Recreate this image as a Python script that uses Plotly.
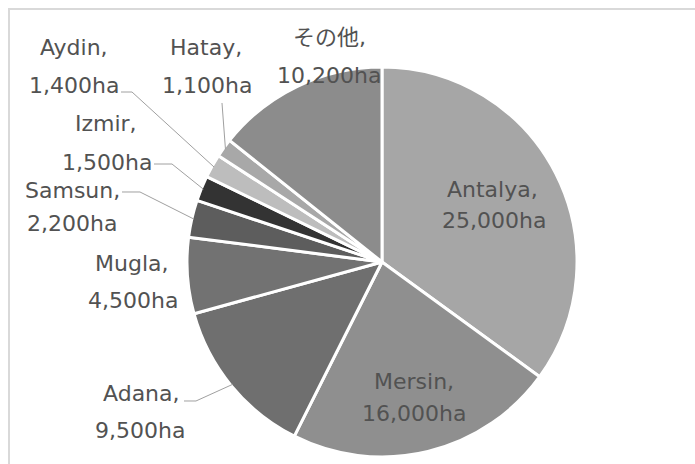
import math
import plotly.graph_objects as go

# Cultivated area by province (ha)
provinces = ["Antalya", "Mersin", "Adana", "Mugla", "Samsun", "Izmir", "Aydin", "Hatay", "その他"]
areas = [25000, 16000, 9500, 4500, 2200, 1500, 1400, 1100, 10200]
slice_colors = ["#a6a6a6", "#8f8f8f", "#6f6f6f", "#727272", "#5d5d5d",
                "#333333", "#bdbdbd", "#a8a8a8", "#8c8c8c"]

W, H = 695, 464
CX, CY, R = 382, 262, 195  # pie centre / radius in pixels
FONT = "DejaVu Sans, Noto Sans CJK JP, sans-serif"
FONT_SIZE = 22
TEXT_COLOR = "#525252"
LINE_COLOR = "#a0a0a0"

# label placement: (name-line centre x, y, value-line centre x, y) in pixels
label_pos = {
    "Antalya": (492, 189, 494, 221),
    "Mersin": (414, 381, 414, 413),
    "Adana": (141, 393, 140, 430),
    "Mugla": (131, 263, 133, 300),
    "Samsun": (72, 190, 72, 223),
    "Izmir": (106, 124, 107, 163),
    "Aydin": (74, 48, 74, 85),
    "Hatay": (206, 48, 207, 85),
    "その他": (329, 38, 329, 76),
}
# leader line start (near label) and elbow, pixels
leaders = {
    "Adana": [(184, 401), (196, 401)],
    "Samsun": [(122, 192), (140, 192)],
    "Izmir": [(154, 164), (172, 164)],
    "Aydin": [(121, 92), (132, 92)],
    "Hatay": [(222, 103), (222, 103)],
}


def px(x):
    return x / W


def py(y):
    return 1 - y / H


fig = go.Figure(go.Pie(
    labels=provinces,
    values=areas,
    sort=False,
    direction="clockwise",
    rotation=0,
    marker=dict(colors=slice_colors, line=dict(color="white", width=3)),
    textinfo="none",
    hoverinfo="label+value",
    domain=dict(x=[px(CX - R), px(CX + R)], y=[py(CY + R), py(CY - R)]),
    showlegend=False,
))

annotations = []
shapes = []
total = sum(areas)
cum = 0
for name, val in zip(provinces, areas):
    mid = (cum + val / 2) / total * 2 * math.pi
    cum += val
    nx, ny, vx, vy = label_pos[name]
    for text, x, y in ((f"{name},", nx, ny), (f"{val:,}ha", vx, vy)):
        annotations.append(dict(x=px(x), y=py(y), xref="paper", yref="paper",
                                xanchor="center", yanchor="middle",
                                text=text, showarrow=False,
                                font=dict(family=FONT, size=FONT_SIZE, color=TEXT_COLOR)))
    if name in leaders:
        # end point just inside the slice edge, at the slice's mid-angle
        ex = CX + (R - 2) * math.sin(mid)
        ey = CY - (R - 2) * math.cos(mid)
        pts = leaders[name] + [(ex, ey)]
        path = "M " + " L ".join(f"{px(x):.5f},{py(y):.5f}" for x, y in pts)
        shapes.append(dict(type="path", path=path, xref="paper", yref="paper",
                           line=dict(color=LINE_COLOR, width=1)))

# chart frame (top and left edges visible)
shapes.append(dict(type="rect", xref="paper", yref="paper",
                   x0=px(9), y0=py(470), x1=px(702), y1=py(9),
                   line=dict(color="#d9d9d9", width=2), layer="below"))

fig.update_layout(
    width=W, height=H,
    margin=dict(l=0, r=0, t=0, b=0),
    paper_bgcolor="white",
    plot_bgcolor="white",
    annotations=annotations,
    shapes=shapes,
)

fig.write_html("out.html")
